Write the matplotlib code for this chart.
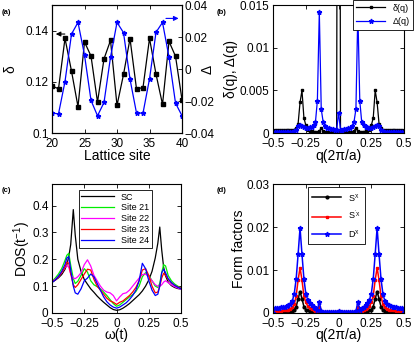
import numpy as np
import matplotlib
matplotlib.use('Agg')
import matplotlib.pyplot as plt

plt.rcParams['font.family'] = ['Liberation Sans', 'DejaVu Sans']
plt.rcParams['mathtext.default'] = 'regular'
plt.rcParams['xtick.direction'] = 'in'
plt.rcParams['ytick.direction'] = 'in'
plt.rcParams['xtick.major.size'] = 3
plt.rcParams['ytick.major.size'] = 3
plt.rcParams['axes.linewidth'] = 0.8

# ---- (a) real-space modulation ----
sites = list(range(20, 41))
delta_site = [0.1184, 0.1173, 0.1370, 0.1242, 0.1103, 0.1356, 0.1301, 0.1121, 0.1290,
              0.1362, 0.1108, 0.1229, 0.1369, 0.1172, 0.1178, 0.1370, 0.1230, 0.1112,
              0.1358, 0.1300, 0.1130]
gap_site = [-0.0275, -0.0280, -0.0078, 0.0219, 0.0292, 0.0088, -0.0196, -0.0292, -0.0209,
            0.0074, 0.0292, 0.0228, -0.0063, -0.0275, -0.0275, -0.0061, 0.0230, 0.0292,
            0.0074, -0.0213, -0.0292]

# ---- (b) Fourier components, q = k/68 ----
q = np.linspace(-0.5, 0.5, 69)
delta_q = [0.0002, 0.0003, 0.0003, 0.0003, 0.0003, 0.0003, 0.0003, 0.0003, 0.0003, 0.0003,
           0.00035, 0.0004, 0.0006, 0.0011, 0.0036, 0.0050, 0.0018, 0.0009, 0.0004, 0.00025,
           0.0002, 0.00018, 0.00015, 0.00015, 0.0002, 0.0006, 0.0002, 0.00015, 0.00012, 0.0001,
           0.0001, 0.0001, 0.0001, 0.0001, 0.125,
           0.0001, 0.0001, 0.0001, 0.0001, 0.0001, 0.00012, 0.00015, 0.0002, 0.0006, 0.0002,
           0.00015, 0.00015, 0.00018, 0.0002, 0.00025, 0.0004, 0.0009, 0.0018, 0.0050, 0.0036,
           0.0011, 0.0006, 0.0004, 0.00035, 0.0003, 0.0003, 0.0003, 0.0003, 0.0003, 0.0003,
           0.0003, 0.0003, 0.0003, 0.0002]
gap_q = [0.0, 0.0001, 0.0001, 0.0001, 0.0001, 0.0001, 0.0001, 0.0001, 0.0001, 0.0001,
         0.00015, 0.0002, 0.0004, 0.0008, 0.0010, 0.0008, 0.0007, 0.0006, 0.0006, 0.0007,
         0.0007, 0.0009, 0.0013, 0.0038, 0.0142, 0.0028, 0.0013, 0.0008, 0.0006, 0.0006,
         0.0005, 0.0005, 0.0004, 0.00035, 0.0024,
         0.00035, 0.0004, 0.0005, 0.0005, 0.0006, 0.0006, 0.0008, 0.0013, 0.0028, 0.0142,
         0.0038, 0.0013, 0.0009, 0.0007, 0.0007, 0.0006, 0.0006, 0.0007, 0.0008, 0.0010,
         0.0008, 0.0004, 0.0002, 0.00015, 0.0001, 0.0001, 0.0001, 0.0001, 0.0001, 0.0001,
         0.0001, 0.0001, 0.0001, 0.0]

# ---- (c) local density of states ----
omega = [-0.5, -0.475, -0.45, -0.425, -0.4, -0.385, -0.37, -0.355, -0.335, -0.32, -0.3,
         -0.275, -0.25, -0.225, -0.2, -0.175, -0.15, -0.125, -0.1, -0.075, -0.05, -0.025,
         0.0, 0.025, 0.05, 0.075, 0.1, 0.125, 0.15, 0.175, 0.2, 0.225, 0.25, 0.275, 0.3,
         0.32, 0.335, 0.35, 0.365, 0.38, 0.4, 0.425, 0.45, 0.475, 0.5]
dos_sc = [0.115, 0.122, 0.131, 0.143, 0.162, 0.18, 0.21, 0.255, 0.385, 0.29, 0.2, 0.155,
          0.125, 0.107, 0.09, 0.077, 0.063, 0.051, 0.04, 0.03, 0.02, 0.013, 0.01, 0.012,
          0.018, 0.026, 0.035, 0.046, 0.057, 0.068, 0.082, 0.1, 0.123, 0.155, 0.205, 0.26,
          0.32, 0.235, 0.17, 0.138, 0.115, 0.102, 0.095, 0.091, 0.089]
dos_21 = [0.118, 0.13, 0.145, 0.165, 0.195, 0.215, 0.222, 0.178, 0.128, 0.11, 0.118, 0.14,
          0.165, 0.152, 0.12, 0.105, 0.098, 0.09, 0.078, 0.065, 0.05, 0.035, 0.025, 0.03,
          0.04, 0.05, 0.06, 0.068, 0.08, 0.1, 0.135, 0.15, 0.14, 0.12, 0.1, 0.095, 0.11,
          0.15, 0.18, 0.175, 0.14, 0.12, 0.108, 0.1, 0.092]
dos_22 = [0.117, 0.125, 0.135, 0.15, 0.168, 0.178, 0.17, 0.145, 0.13, 0.128, 0.135, 0.15,
          0.18, 0.198, 0.175, 0.14, 0.12, 0.1, 0.085, 0.078, 0.075, 0.065, 0.045, 0.06,
          0.072, 0.075, 0.085, 0.1, 0.115, 0.13, 0.143, 0.145, 0.135, 0.12, 0.105, 0.1,
          0.1, 0.105, 0.115, 0.12, 0.113, 0.105, 0.098, 0.093, 0.088]
dos_23 = [0.115, 0.123, 0.135, 0.15, 0.17, 0.19, 0.185, 0.145, 0.105, 0.095, 0.105, 0.125,
          0.145, 0.163, 0.16, 0.125, 0.1, 0.085, 0.07, 0.055, 0.045, 0.04, 0.032, 0.04,
          0.045, 0.055, 0.065, 0.078, 0.095, 0.12, 0.16, 0.165, 0.14, 0.1, 0.075, 0.078,
          0.1, 0.13, 0.148, 0.14, 0.125, 0.112, 0.103, 0.097, 0.092]
dos_24 = [0.113, 0.123, 0.137, 0.155, 0.18, 0.205, 0.21, 0.16, 0.1, 0.075, 0.07, 0.09,
          0.12, 0.13, 0.145, 0.135, 0.11, 0.085, 0.06, 0.042, 0.03, 0.022, 0.018, 0.022,
          0.03, 0.038, 0.05, 0.065, 0.085, 0.12, 0.185, 0.165, 0.12, 0.085, 0.065, 0.07,
          0.1, 0.15, 0.163, 0.15, 0.128, 0.113, 0.103, 0.096, 0.09]

# ---- (d) form factors ----
s_chi = [0.0, 0.0002, 0.0002, 0.0002, 0.0002, 0.0002, 0.0003, 0.0003, 0.0003, 0.0004,
         0.0005, 0.0008, 0.0015, 0.0033, 0.0050, 0.0033, 0.0015, 0.0008, 0.0006, 0.0005,
         0.0004, 0.0003, 0.0002, 0.0002, 0.0009, 0.0002, 0.0001, 0.0001, 0.0001, 0.0001,
         0.0001, 0.0001, 0.0001, 0.0001, 0.0002,
         0.0001, 0.0001, 0.0001, 0.0001, 0.0001, 0.0001, 0.0001, 0.0001, 0.0002, 0.0009,
         0.0002, 0.0002, 0.0003, 0.0004, 0.0005, 0.0006, 0.0008, 0.0015, 0.0033, 0.0050,
         0.0033, 0.0015, 0.0008, 0.0005, 0.0004, 0.0003, 0.0003, 0.0003, 0.0002, 0.0002,
         0.0002, 0.0002, 0.0002, 0.0]
sp_chi = [0.0, 0.0004, 0.0005, 0.0005, 0.0005, 0.0006, 0.0006, 0.0007, 0.0008, 0.001,
          0.0013, 0.002, 0.004, 0.0077, 0.0105, 0.0077, 0.004, 0.0025, 0.0016, 0.0012,
          0.0009, 0.0007, 0.0005, 0.0004, 0.0015, 0.0003, 0.0002, 0.0002, 0.0002, 0.0002,
          0.0002, 0.0002, 0.0002, 0.0003, 0.0005,
          0.0003, 0.0002, 0.0002, 0.0002, 0.0002, 0.0002, 0.0002, 0.0002, 0.0003, 0.0015,
          0.0004, 0.0005, 0.0007, 0.0009, 0.0012, 0.0016, 0.0025, 0.004, 0.0077, 0.0105,
          0.0077, 0.004, 0.002, 0.0013, 0.001, 0.0008, 0.0007, 0.0006, 0.0006, 0.0005,
          0.0005, 0.0005, 0.0004, 0.0]
d_chi = [0.0, 0.0011, 0.0012, 0.0012, 0.0013, 0.0013, 0.0014, 0.0016, 0.0018, 0.0022,
         0.0028, 0.0045, 0.008, 0.0137, 0.0198, 0.0137, 0.008, 0.0045, 0.003, 0.0023,
         0.0018, 0.0014, 0.0011, 0.0008, 0.0026, 0.0004, 0.0003, 0.0003, 0.0003, 0.0003,
         0.0003, 0.0003, 0.0003, 0.0003, 0.0004,
         0.0003, 0.0003, 0.0003, 0.0003, 0.0003, 0.0003, 0.0003, 0.0003, 0.0004, 0.0026,
         0.0008, 0.0011, 0.0014, 0.0018, 0.0023, 0.003, 0.0045, 0.008, 0.0137, 0.0198,
         0.0137, 0.008, 0.0045, 0.0028, 0.0022, 0.0018, 0.0016, 0.0014, 0.0013, 0.0013,
         0.0012, 0.0012, 0.0011, 0.0]

FS = 8.5     # tick labels
AFS = 10     # axis labels
LFS = 6.5    # legends

fig = plt.figure(figsize=(4.15, 3.42), dpi=100)

def box(ax):
    ax.tick_params(top=True, right=True, labelsize=FS, width=0.6)
    ax.tick_params(axis='y', pad=2.5)
    ax.tick_params(axis='x', pad=3.3)

# (a)
ax1 = fig.add_axes([0.1253, 0.611, 0.3133, 0.374])
ax1.plot(sites, delta_site, '-s', color='k', lw=0.9, ms=2.2)
ax1.set_xlim(20, 40)
ax1.set_ylim(0.1, 0.15)
ax1.set_xticks([20, 25, 30, 35, 40])
ax1.set_yticks([0.1, 0.12, 0.14])
ax1.set_yticklabels(['0.1', '0.12', '0.14'])
ax1.tick_params(top=True, labelsize=FS, width=0.6)
ax1.tick_params(axis='y', pad=2.5)
ax1.tick_params(axis='x', pad=3.3)
ax1.set_xlabel('Lattice site', fontsize=AFS, labelpad=-0.5)
ax1.set_ylabel('δ', fontsize=AFS)
ax1.yaxis.set_label_coords(-0.27, 0.5)
ax1.annotate('', xy=(20.15, 0.1387), xytext=(22.4, 0.1387),
             arrowprops=dict(arrowstyle='-|>', color='k', lw=0.8, mutation_scale=7))
ax1b = ax1.twinx()
ax1b.plot(sites, gap_site, '-*', color='b', lw=0.9, ms=3.5)
ax1b.set_ylim(-0.04, 0.04)
ax1b.set_yticks([-0.04, -0.02, 0, 0.02, 0.04])
ax1b.set_yticklabels(['−0.04', '−0.02', '0', '0.02', '0.04'])
ax1b.tick_params(labelsize=FS, width=0.6, pad=2, direction='in')
ax1b.set_ylabel('Δ', fontsize=AFS)
ax1b.yaxis.set_label_coords(1.145, 0.5)
ax1b.annotate('', xy=(39.9, 0.0317), xytext=(37.1, 0.0317),
              arrowprops=dict(arrowstyle='-|>', color='b', lw=0.8, mutation_scale=7))

# (b)
ax2 = fig.add_axes([0.658, 0.611, 0.3157, 0.374])
ax2.plot(q, delta_q, '-s', color='k', lw=0.9, ms=2.0, label='δ(q)')
ax2.plot(q, gap_q, '-*', color='b', lw=0.9, ms=3.5, label='Δ(q)')
ax2.set_xlim(-0.5, 0.5)
ax2.set_ylim(0, 0.015)
ax2.set_xticks([-0.5, -0.25, 0, 0.25, 0.5])
ax2.set_xticklabels(['−0.5', '−0.25', '0', '0.25', '0.5'])
ax2.set_yticks([0, 0.005, 0.01, 0.015])
ax2.set_yticklabels(['0', '0.005', '0.01', '0.015'])
box(ax2)
ax2.set_xlabel('q(2π/a)', fontsize=AFS, labelpad=-0.5)
ax2.set_ylabel('δ(q), Δ(q)', fontsize=AFS)
ax2.yaxis.set_label_coords(-0.267, 0.5)
leg = ax2.legend(loc='upper right', bbox_to_anchor=(1.07, 1.04), borderaxespad=0,
                 fontsize=LFS, fancybox=False, edgecolor='k', framealpha=1,
                 handlelength=3.2, borderpad=0.4, labelspacing=0.5)
leg.get_frame().set_linewidth(0.6)

# (c)
ax3 = fig.add_axes([0.1253, 0.0848, 0.311, 0.377])
ax3.plot(omega, dos_sc, color='k', lw=0.9, label='SC')
ax3.plot(omega, dos_21, color='#00ee00', lw=0.9, label='Site 21')
ax3.plot(omega, dos_22, color='#ff00ff', lw=0.9, label='Site 22')
ax3.plot(omega, dos_23, color='r', lw=0.9, label='Site 23')
ax3.plot(omega, dos_24, color='b', lw=0.9, label='Site 24')
ax3.set_xlim(-0.5, 0.5)
ax3.set_ylim(0, 0.48)
ax3.set_xticks([-0.5, -0.25, 0, 0.25, 0.5])
ax3.set_xticklabels(['−0.5', '−0.25', '0', '0.25', '0.5'])
ax3.set_yticks([0, 0.1, 0.2, 0.3, 0.4])
ax3.set_yticklabels(['0', '0.1', '0.2', '0.3', '0.4'])
box(ax3)
ax3.set_xlabel('ω(t)', fontsize=AFS, labelpad=-1)
ax3.set_ylabel('DOS(t$^{-1}$)', fontsize=AFS)
ax3.yaxis.set_label_coords(-0.15, 0.5)
leg = ax3.legend(loc='upper center', bbox_to_anchor=(0.49, 0.955), borderaxespad=0,
                 fontsize=LFS, fancybox=False, edgecolor='k', framealpha=1,
                 handlelength=3.6, borderpad=0.3, labelspacing=0.2)
leg.get_frame().set_linewidth(0.6)

# (d)
ax4 = fig.add_axes([0.658, 0.0848, 0.3157, 0.377])
ax4.plot(q, s_chi, '-o', color='k', lw=1.1, ms=2.0, label='S$^{\\chi}$')
ax4.plot(q, sp_chi, '-s', color='r', lw=1.1, ms=2.0, label="S$^{'\\chi}$")
ax4.plot(q, d_chi, '-*', color='b', lw=1.1, ms=3.5, label='D$^{\\chi}$')
ax4.set_xlim(-0.5, 0.5)
ax4.set_ylim(0, 0.03)
ax4.set_xticks([-0.5, -0.25, 0, 0.25, 0.5])
ax4.set_xticklabels(['−0.5', '−0.25', '0', '0.25', '0.5'])
ax4.set_yticks([0, 0.01, 0.02, 0.03])
ax4.set_yticklabels(['0', '0.01', '0.02', '0.03'])
box(ax4)
ax4.set_xlabel('q(2π/a)', fontsize=AFS, labelpad=-1)
ax4.set_ylabel('Form factors', fontsize=AFS)
ax4.yaxis.set_label_coords(-0.206, 0.5)
leg = ax4.legend(loc='upper center', bbox_to_anchor=(0.485, 0.977), borderaxespad=0,
                 fontsize=LFS, fancybox=False, edgecolor='k', framealpha=1,
                 handlelength=3.2, borderpad=0.5, labelspacing=0.7)
leg.get_frame().set_linewidth(0.6)

for x, y, s in [(0.005, 0.962, '(a)'), (0.523, 0.962, '(b)'),
                (0.005, 0.444, '(c)'), (0.523, 0.444, '(d)')]:
    fig.text(x, y, s, fontsize=5.5, fontweight='bold', va='center')

fig.savefig('out.png', dpi=100)
